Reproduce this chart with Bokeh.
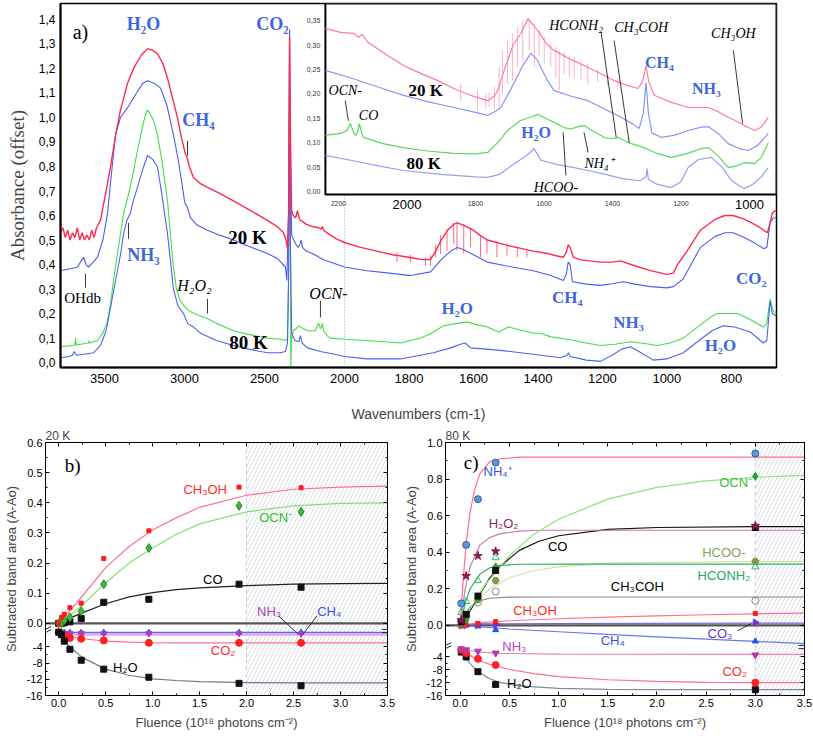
import numpy as np
from bokeh.plotting import figure
from bokeh.models import (Range1d, ColumnDataSource, CustomJSTransform, FixedTicker,
                          CustomJSTickFormatter, LinearAxis, Span, BoxAnnotation,
                          SingleIntervalTicker)
from bokeh.transform import transform
from bokeh.layouts import column, row
from bokeh.core.properties import value
from bokeh.embed import file_html
from bokeh.resources import INLINE

SERIF = "Liberation Serif"
SANS = "Liberation Sans"

# ---------------- panel a : IR spectra (wavenumber cm-1, absorbance) ----------------
R20_MAIN = [
 (3775,.53),(3760,.55),(3745,.51),(3730,.54),(3715,.50),(3700,.53),(3685,.51),(3670,.55),
 (3655,.50),(3640,.53),(3625,.50),(3610,.52),(3595,.50),(3580,.54),(3565,.51),(3550,.55),
 (3525,.58),(3490,.70),(3462,.80),(3430,.93),(3400,1.03),(3356,1.14),(3318,1.20),(3270,1.255),
 (3231,1.28),(3200,1.275),(3169,1.26),(3135,1.22),(3106,1.16),(3075,1.08),(3044,1.0),(3020,.92),
 (2994,.85),(2985,.84),(2970,.80),(2944,.755),(2900,.73),(2856,.715),(2780,.69),(2694,.66),
 (2600,.625),(2481,.58),(2420,.555),(2381,.53),(2365,.50),(2356,.465),(2349,.60),(2343,1.33),
 (2337,.90),(2330,.62),(2320,.60),(2305,.59),(2294,.62),(2285,.595),(2275,.58),(2262,.575),
 (2240,.565),(2200,.555),(2160,.55),(2145,.545),(2138,.555),(2130,.54),(2100,.525),(2050,.505),
 (2000,.49),(1950,.47),(1900,.455),(1850,.44),(1800,.43),(1760,.42),(1733,.42),(1715,.46),
 (1700,.50),(1680,.54),(1660,.565),(1650,.57),(1630,.56),(1600,.54),(1580,.52),(1557,.50),
 (1500,.48),(1450,.465),(1414,.455),(1370,.445),(1340,.435),(1321,.43),(1312,.45),(1306,.48),
 (1300,.47),(1290,.43),(1270,.42),(1240,.415),(1206,.41),(1170,.41),(1144,.415),(1100,.395),
 (1051,.375),(1000,.36),(980,.365),(967,.40),(940,.45),(896,.54),(850,.585),(820,.60),
 (794,.60),(760,.585),(730,.565),(710,.55),(695,.535),(688,.53),(680,.57),(673,.61),(664,.62),(660,.62)]

B20_MAIN = [
 (3775,.375),(3700,.385),(3669,.39),(3650,.41),(3631,.43),(3615,.40),(3600,.39),(3570,.41),
 (3544,.43),(3510,.50),(3481,.61),(3455,.78),(3431,.93),(3400,1.0),(3356,1.04),(3300,1.10),
 (3260,1.14),(3231,1.15),(3190,1.14),(3150,1.12),(3110,1.05),(3069,.93),(3040,.83),(3012,.715),
 (3000,.66),(2994,.645),(2985,.64),(2962,.59),(2920,.56),(2856,.54),(2780,.52),(2694,.50),
 (2600,.475),(2481,.445),(2420,.425),(2369,.39),(2360,.335),(2350,.60),(2343,1.36),(2337,.80),
 (2330,.52),(2310,.49),(2290,.47),(2280,.48),(2270,.50),(2262,.47),(2240,.455),(2200,.445),
 (2130,.42),(2000,.39),(1930,.375),(1860,.365),(1795,.355),(1733,.37),(1700,.42),(1670,.455),
 (1650,.47),(1630,.46),(1600,.44),(1557,.41),(1500,.395),(1414,.375),(1360,.355),(1321,.335),
 (1312,.36),(1306,.41),(1300,.40),(1293,.33),(1250,.32),(1206,.315),(1170,.322),(1135,.33),
 (1100,.32),(1051,.31),(1000,.305),(980,.31),(950,.34),(896,.47),(850,.515),(820,.53),
 (794,.53),(760,.51),(730,.49),(700,.465),(690,.47),(680,.57),(670,.59),(660,.59)]

G80_MAIN = [
 (3775,.065),(3700,.07),(3685,.072),(3681,.10),(3677,.072),(3620,.078),(3600,.08),(3596,.09),
 (3592,.08),(3544,.09),(3510,.12),(3481,.17),(3460,.25),(3444,.335),(3420,.44),(3400,.525),
 (3380,.61),(3356,.67),(3325,.76),(3294,.865),(3260,.97),(3240,1.02),(3231,1.03),(3210,1.01),
 (3190,.98),(3169,.93),(3140,.82),(3106,.66),(3085,.50),(3069,.39),(3050,.30),(3025,.25),
 (2980,.215),(2940,.20),(2900,.19),(2856,.18),(2800,.16),(2694,.13),(2600,.115),(2481,.10),
 (2400,.095),(2369,.09),(2356,.10),(2350,.30),(2343,1.15),(2338,.60),(2335,-.02),(2330,.10),
 (2320,.13),(2300,.14),(2285,.15),(2275,.145),(2262,.14),(2230,.13),(2200,.13),(2180,.13),
 (2168,.155),(2160,.16),(2152,.14),(2145,.14),(2139,.16),(2130,.13),(2110,.11),(2088,.10),
 (2000,.095),(1930,.09),(1826,.08),(1764,.10),(1730,.12),(1693,.15),(1650,.16),(1619,.165),
 (1590,.155),(1557,.145),(1522,.125),(1491,.145),(1460,.135),(1414,.12),(1392,.12),(1360,.105),
 (1308,.095),(1250,.08),(1206,.07),(1160,.075),(1113,.085),(1070,.078),(1030,.07),(990,.08),
 (949,.10),(900,.15),(860,.19),(843,.20),(800,.20),(781,.20),(740,.175),(701,.145),(690,.16),
 (680,.26),(670,.21),(660,.20)]

B80_MAIN = [
 (3775,.02),(3720,.025),(3700,.03),(3690,.045),(3681,.035),(3670,.03),(3620,.035),(3569,.04),
 (3525,.07),(3490,.13),(3462,.225),(3431,.335),(3400,.44),(3381,.525),(3360,.58),(3338,.61),
 (3320,.66),(3294,.715),(3260,.79),(3231,.845),(3200,.83),(3169,.80),(3140,.68),(3106,.525),
 (3085,.40),(3069,.30),(3040,.23),(3006,.20),(2980,.16),(2944,.145),(2900,.12),(2800,.09),
 (2694,.07),(2600,.055),(2481,.04),(2400,.04),(2369,.045),(2356,.08),(2348,.40),(2343,1.0),
 (2338,.50),(2330,.12),(2310,.09),(2285,.085),(2275,.11),(2265,.08),(2231,.06),(2150,.045),
 (2069,.035),(2000,.025),(1930,.015),(1826,.015),(1724,.04),(1671,.06),(1640,.075),(1625,.08),
 (1609,.06),(1560,.055),(1516,.05),(1420,.035),(1330,.02),(1310,.03),(1305,.04),(1300,.025),
 (1250,.01),(1206,.005),(1170,.03),(1140,.055),(1113,.065),(1080,.04),(1042,.01),(1000,.015),
 (949,.04),(900,.09),(860,.13),(825,.15),(790,.145),(741,.125),(701,.08),(690,.09),(680,.25),
 (673,.20),(660,.19)]

# water-vapour spikes on the 20 K spectrum: (wavenumber, top, bottom)
R20_SPIKES_MAIN = [
 (1837,.450,.410),(1795,.440,.410),(1749,.430,.396),(1733,.440,.396),(1718,.480,.430),
 (1702,.52,.444),(1682,.545,.457),(1661,.570,.484),(1651,.573,.457),(1630,.566,.444),
 (1609,.545,.471),(1578,.52,.430),(1558,.505,.444),(1527,.495,.430),(1496,.485,.437),
 (1464,.47,.430),(1434,.46,.430)]

# ---------------- inset (zoom 2238-921 cm-1) ----------------
R20_INS = [
 (2238,.334),(2194,.326),(2156,.324),(2141,.316),(2130,.322),(2115,.306),(2060,.28),(2010,.258),
 (1960,.242),(1910,.227),(1860,.21),(1814,.197),(1764,.186),(1745,.195),(1735,.207),(1720,.24),
 (1706,.268),(1690,.30),(1667,.324),(1647,.354),(1618,.33),(1595,.305),(1571,.289),(1520,.27),
 (1471,.254),(1430,.24),(1395,.227),(1360,.218),(1325,.211),(1312,.225),(1302,.258),(1294,.225),
 (1278,.197),(1230,.183),(1179,.172),(1150,.172),(1120,.172),(1090,.163),(1062,.152),(1040,.145),
 (1015,.135),(1000,.13),(985,.125),(965,.132),(945,.152)]
B20_INS = [
 (2238,.248),(2156,.231),(2080,.213),(2010,.197),(1940,.184),(1863,.172),(1800,.162),(1764,.156),
 (1740,.165),(1726,.172),(1700,.205),(1688,.221),(1660,.26),(1638,.283),(1620,.27),(1609,.254),
 (1590,.228),(1571,.207),(1520,.195),(1471,.186),(1420,.168),(1375,.152),(1340,.138),(1322,.129),
 (1310,.16),(1302,.223),(1295,.16),(1285,.12),(1258,.111),(1220,.115),(1179,.125),(1140,.132),
 (1120,.133),(1090,.118),(1062,.098),(1030,.088),(1003,.084),(975,.095),(945,.119)]
G80_INS = [
 (2238,.115),(2194,.119),(2175,.125),(2165,.139),(2155,.12),(2150,.115),(2145,.12),(2139,.139),
 (2132,.12),(2127,.111),(2070,.098),(2010,.09),(1940,.083),(1863,.078),(1800,.077),(1764,.08),
 (1735,.10),(1706,.125),(1670,.145),(1640,.152),(1618,.158),(1590,.148),(1560,.138),(1541,.131),
 (1520,.128),(1500,.133),(1483,.135),(1460,.125),(1424,.111),(1400,.108),(1383,.111),(1365,.104),
 (1345,.098),(1320,.093),(1302,.088),(1270,.078),(1228,.07),(1180,.078),(1140,.088),(1120,.09),
 (1090,.072),(1062,.049),(1040,.052),(1015,.059),(985,.057),(965,.07),(945,.10)]
B80_INS = [
 (2238,.074),(2150,.062),(2080,.052),(2010,.043),(1900,.035),(1800,.03),(1764,.029),(1730,.035),
 (1706,.047),(1680,.06),(1658,.07),(1640,.08),(1629,.088),(1618,.075),(1609,.064),(1560,.055),
 (1520,.05),(1471,.043),(1420,.035),(1375,.027),(1320,.022),(1302,.03),(1299,.047),(1295,.025),
 (1270,.015),(1228,.008),(1200,.02),(1179,.049),(1150,.065),(1111,.07),(1080,.05),(1053,.023),
 (1030,.012),(1015,.006),(990,.015),(965,.03),(945,.049)]
R20_SPIKES_INS = [
 (1843,.221,.186),(1794,.207,.166),(1770,.200,.169),(1760,.203,.173),(1745,.214,.166),
 (1731,.255,.173),(1721,.289,.200),(1706,.309,.221),(1692,.323,.227),(1677,.337,.255),
 (1662,.350,.268),(1643,.354,.289),(1628,.344,.255),(1614,.330,.279),(1599,.316,.262),
 (1580,.303,.255),(1565,.296,.234),(1555,.289,.207),(1541,.285,.241),(1526,.279,.234),
 (1512,.275,.231),(1492,.268,.227),(1472,.262,.221),(1443,.251,.224),(1414,.238,.217),
 (1384,.231,.210)]

A_XTICKS = [3500, 3000, 2500, 2000, 1800, 1600, 1400, 1200, 1000, 800]
A_YTICKS = [0.0, 0.1, 0.2, 0.3, 0.4, 0.5, 0.6, 0.7, 0.8, 0.9, 1.0, 1.1, 1.2, 1.3, 1.4]
INS_YTICKS = [0.0, 0.05, 0.10, 0.15, 0.20, 0.25, 0.30, 0.35]
INS_XTICKS_SMALL = [2200, 1800, 1600, 1400, 1200]
INS_XTICKS_BIG = [2000, 1000]

# ---------------- panel b : 20 K ----------------
FL_B = [0, 0.03, 0.06, 0.12, 0.24, 0.48, 0.96, 1.92, 2.58]
B_CH3OH = [0, 0.02, 0.03, 0.052, 0.067, 0.215, 0.307, 0.452, 0.45]
B_OCN = [0, 0.0, 0.01, 0.02, 0.04, 0.13, 0.25, 0.39, 0.37]
B_CO = [0, 0.0, 0.002, 0.005, 0.016, 0.07, 0.08, 0.13, 0.12]
B_CH4 = [-0.3, -0.4, -0.45, -0.45, -0.45, -0.45, -0.45, -0.45, -0.45]
B_NH3 = [-0.4, -0.6, -0.6, -0.65, -0.65, -0.7, -0.7, -0.7, -0.8]
B_CO2 = [-0.4, -0.9, -1.2, -1.8, -2.0, -2.4, -3.0, -3.0, -3.0]
B_H2O = [-0.4, -1.0, -2.6, -4.6, -7.3, -9.5, -11.5, -13.0, -13.6]
BF_X = [0, 0.1, 0.25, 0.5, 0.75, 1.0, 1.25, 1.5, 2.0, 2.5, 3.0, 3.5]
BF_CH3OH = [0, 0.035, 0.09, 0.185, 0.255, 0.31, 0.35, 0.385, 0.425, 0.445, 0.452, 0.455]
BF_OCN = [0, 0.02, 0.06, 0.135, 0.2, 0.25, 0.295, 0.33, 0.37, 0.39, 0.398, 0.40]
BF_CO = [0, 0.015, 0.035, 0.065, 0.088, 0.102, 0.112, 0.118, 0.125, 0.13, 0.132, 0.133]
BF_CO2 = [-0.3, -1.3, -2.0, -2.6, -2.85, -2.95, -3.0, -3.0, -3.0, -3.0, -3.0, -3.0]
BF_H2O = [-0.3, -3.6, -6.6, -9.5, -11.0, -11.9, -12.3, -12.6, -12.8, -12.9, -12.9, -12.9]
BF_CH4 = [-0.45, -0.45, -0.45, -0.45, -0.45, -0.45, -0.45, -0.45, -0.45, -0.45, -0.45, -0.45]
BF_NH3 = [-0.9, -0.9, -0.9, -0.9, -0.9, -0.9, -0.9, -0.9, -0.9, -0.9, -0.9, -0.9]
B_YTICKS = [0.0, 0.1, 0.2, 0.3, 0.4, 0.5, 0.6, -4, -8, -12, -16]
B_YMINOR = [0.05, 0.15, 0.25, 0.35, 0.45, 0.55, -6, -10, -14]

# ---------------- panel c : 80 K ----------------
FL_C = [0.01, 0.06, 0.18, 0.36, 3.0]
C_NH4 = [0.12, 0.44, 0.69, 0.89, 0.94]
C_H2O2 = [0.03, 0.27, 0.38, 0.405, 0.545]
C_CO = [0.02, 0.06, 0.16, 0.30, 0.535]
C_HCOO = [0.02, 0.05, 0.14, 0.245, 0.35]
C_HCONH2 = [0.07, 0.13, 0.245, 0.37, 0.32]
C_OCN = [0.01, 0.03, 0.15, 0.32, 0.815]
C_CH3COH = [0.0, 0.05, 0.125, 0.185, 0.135]
C_CH3OH = [0.0, 0.005, 0.01, 0.02, 0.065]
C_CO3 = [0.0, 0.0, 0.003, 0.005, 0.015]
C_CH4 = [0.0, 0.0, -0.005, -0.025, -0.087]
C_NH3 = [-1.5, -1.8, -2.2, -2.8, -3.4]
C_CO2 = [-1.8, -2.8, -4.6, -6.5, -12.0]
C_H2O = [-2.5, -4.0, -8.6, -12.6, -14.2]
CF_NH4 = ([0, 0.03, 0.06, 0.1, 0.15, 0.2, 0.3, 0.4, 0.6, 1.0, 3.5],
          [0.0, 0.25, 0.45, 0.62, 0.75, 0.83, 0.895, 0.91, 0.92, 0.92, 0.92])
CF_OCN = ([0, 0.1, 0.25, 0.5, 0.75, 1.0, 1.5, 2.0, 2.5, 3.0, 3.5],
          [0, 0.09, 0.22, 0.38, 0.50, 0.58, 0.69, 0.755, 0.79, 0.81, 0.82])
CF_H2O2 = ([0, 0.05, 0.1, 0.2, 0.3, 0.4, 0.6, 0.8, 1.0, 3.5],
           [0.0, 0.2, 0.32, 0.44, 0.48, 0.5, 0.515, 0.52, 0.52, 0.52])
CF_CO = ([0, 0.1, 0.2, 0.3, 0.4, 0.6, 0.8, 1.0, 1.5, 2.0, 3.0, 3.5],
         [0, 0.08, 0.17, 0.26, 0.32, 0.41, 0.46, 0.49, 0.525, 0.535, 0.54, 0.54])
CF_HCONH2 = ([0, 0.05, 0.1, 0.2, 0.3, 0.4, 0.6, 1.0, 3.5],
             [0.0, 0.12, 0.2, 0.28, 0.315, 0.328, 0.334, 0.335, 0.335])
CF_HCOO = ([0, 0.1, 0.2, 0.3, 0.5, 0.75, 1.0, 1.5, 2.0, 3.5],
           [0, 0.08, 0.15, 0.2, 0.26, 0.3, 0.32, 0.34, 0.345, 0.35])
CF_CH3COH = ([0, 0.05, 0.1, 0.2, 0.3, 0.5, 1.0, 3.5],
             [0, 0.06, 0.1, 0.135, 0.148, 0.154, 0.155, 0.155])
CF_CH3OH = ([0, 0.2, 0.5, 1.0, 1.5, 2.0, 2.5, 3.0, 3.5],
            [0, 0.015, 0.025, 0.036, 0.045, 0.052, 0.058, 0.063, 0.067])
CF_CO3 = ([0, 0.2, 1.0, 3.5], [0.0, 0.008, 0.01, 0.012])
CF_CH4 = ([0, 0.5, 1.0, 1.5, 2.0, 2.5, 3.0, 3.5],
          [0, -0.02, -0.035, -0.05, -0.063, -0.075, -0.088, -0.1])
CF_NH3 = ([0, 0.05, 0.1, 0.2, 0.4, 1.0, 3.5], [-1.0, -1.6, -2.0, -2.5, -2.9, -3.1, -3.2])
CF_CO2 = ([0, 0.05, 0.1, 0.2, 0.3, 0.5, 0.75, 1.0, 1.5, 2.0, 2.5, 3.0, 3.5],
          [-1.0, -2.5, -3.6, -5.2, -6.3, -7.9, -9.2, -10.1, -11.1, -11.6, -11.9, -12.0, -12.0])
CF_H2O = ([0, 0.05, 0.1, 0.15, 0.2, 0.3, 0.4, 0.6, 1.0, 1.5, 2.0, 3.5],
          [-1.0, -3.8, -6.0, -7.7, -9.0, -10.8, -11.9, -13.0, -13.8, -14.1, -14.2, -14.2])
C_YTICKS = [0.0, 0.2, 0.4, 0.6, 0.8, 1.0, -4, -8, -12, -16]
C_YMINOR = [0.1, 0.3, 0.5, 0.7, 0.9, -6, -10, -14]

# ---------------- piecewise (broken) axis scales ----------------
RATIO = 0.16 / 0.3225          # compressed scale above 2000 cm-1
XP_A = [500.0, 2000.0, 4000.0]
FP_A = [500.0, 2000.0, 2000.0 + 2000.0 * RATIO]
XP_B = [-16.0, -0.2, -0.015, 0.6]
FP_B = [0.0, 64.8, 68.4, 256.0]
XP_C = [-16.0, -0.5, -0.11, 1.0]
FP_C = [0.0, 50.4, 50.65, 256.0]

JS_INTERP = """
function f(v) {
  const n = xp.length;
  let i = 1;
  while (i < n - 1 && v > xp[i]) { i++; }
  return fp[i-1] + (v - xp[i-1]) * (fp[i] - fp[i-1]) / (xp[i] - xp[i-1]);
}
"""


def pw(xp, fp):
    return CustomJSTransform(args=dict(xp=list(xp), fp=list(fp)),
                             func=JS_INTERP + "return f(x);",
                             v_func=JS_INTERP + "return xs.map((v) => f(v));")


def interp(v, xp, fp):
    return [float(t) for t in np.interp(v, xp, fp)]


TA = pw(XP_A, FP_A)
TB = pw(XP_B, FP_B)
TC = pw(XP_C, FP_C)


def unz(pts):
    return [p[0] for p in pts], [p[1] for p in pts]


# ================= panel a =================
x_start = interp([3775], XP_A, FP_A)[0]
pa = figure(width=813, height=425, x_range=Range1d(x_start, 660), y_range=Range1d(-0.02, 1.465),
            output_backend="svg", toolbar_location=None, min_border_left=60, min_border_right=37,
            min_border_top=3, min_border_bottom=58)
pa.grid.visible = False
pa.outline_line_color = "black"
pa.outline_line_width = 1.5
pa.xaxis.ticker = FixedTicker(ticks=interp(A_XTICKS, XP_A, FP_A))
pa.xaxis.formatter = CustomJSTickFormatter(args=dict(xp=FP_A, fp=XP_A),
                                           code=JS_INTERP + "return String(Math.round(f(tick)));")
pa.yaxis.ticker = FixedTicker(ticks=A_YTICKS)
pa.yaxis.formatter = CustomJSTickFormatter(code="return tick.toFixed(1).replace('.', ',');")
for ax in (pa.xaxis[0], pa.yaxis[0]):
    ax.major_tick_out = 0
    ax.major_tick_in = 0
    ax.minor_tick_out = 0
    ax.minor_tick_in = 0
    ax.axis_line_width = 2
    ax.major_label_text_font = SANS
    ax.major_label_text_color = "black"
pa.xaxis.major_label_text_font_size = "13px"
pa.xaxis.major_label_standoff = 6
pa.yaxis.major_label_text_font_size = "12px"
pa.xaxis.axis_label = "Wavenumbers (cm-1)"
pa.xaxis.axis_label_text_font = SANS
pa.xaxis.axis_label_text_font_size = "14px"
pa.xaxis.axis_label_text_font_style = "normal"
pa.xaxis.axis_label_standoff = 20
pa.yaxis.axis_label = "Absorbance (offset)"
pa.yaxis.axis_label_text_font = SERIF
pa.yaxis.axis_label_text_font_size = "19px"
pa.yaxis.axis_label_text_font_style = "normal"
pa.yaxis.axis_label_standoff = 8

# dotted marker at 2000 cm-1
pa.segment(x0=transform('w', TA), x1=transform('w', TA), y0='a0', y1='a1',
           source=ColumnDataSource(dict(w=[2000], a0=[-0.02], a1=[1.465])),
           line_color="#9aa6d8", line_dash="1 2", line_width=1)

for pts_, col, lw in ((G80_MAIN, "#44dd44", 1.1), (B80_MAIN, "#5060ee", 1.1),
                      (B20_MAIN, "#4c5cf0", 1.1), (R20_MAIN, "#ff2a52", 1.4)):
    w, a = unz(pts_)
    pa.line(x=transform('w', TA), y='a', source=ColumnDataSource(dict(w=w, a=a)),
            line_color=col, line_width=lw)
pa.segment(x0=transform('w', TA), x1=transform('w', TA), y0='t', y1='b',
           source=ColumnDataSource(dict(w=[s[0] for s in R20_SPIKES_MAIN],
                                        t=[s[1] for s in R20_SPIKES_MAIN],
                                        b=[s[2] for s in R20_SPIKES_MAIN])),
           line_color="#ff2a52", line_width=0.7)


def put_text(target, ws, ys, texts, font, size, style, color, xf=None, align="center", **kw):
    s = ColumnDataSource(dict(w=ws, a=ys, t=texts))
    xs = transform('w', xf) if xf is not None else 'w'
    target.text(x=xs, y='a', text='t', source=s, text_font=value(font), text_font_size=size,
                text_font_style=style, text_color=color, text_align=align,
                text_baseline="middle", **kw)


def put_lines(target, segs, color="#222222", xf=None, width=0.9):
    s = ColumnDataSource(dict(w0=[q[0] for q in segs], a0=[q[1] for q in segs],
                              w1=[q[2] for q in segs], a1=[q[3] for q in segs]))
    x0 = transform('w0', xf) if xf is not None else 'w0'
    x1 = transform('w1', xf) if xf is not None else 'w1'
    target.segment(x0=x0, y0='a0', x1=x1, y1='a1', source=s, line_color=color, line_width=width)


BLUE_T = "#3d66dd"
put_text(pa, [3256, 2450, 2912, 3256], [1.38, 1.38, 0.99, 0.437],
         ["H₂O", "CO₂", "CH₄", "NH₃"], SERIF, "18px", "bold", BLUE_T, TA)
put_text(pa, [1650, 1309, 1119, 834, 738], [0.22, 0.265, 0.163, 0.07, 0.345],
         ["H₂O", "CH₄", "NH₃", "H₂O", "CO₂"], SERIF, "17px", "bold", BLUE_T, TA)
put_text(pa, [2606, 2600], [0.51, 0.08], ["20 K", "80 K"], SERIF, "19px", "bold", "black", TA)
put_text(pa, [2938, 2100], [0.314, 0.28], ["H₂O₂", "OCN-"], SERIF, "16px", "italic", "black", TA)
put_text(pa, [3650], [1.35], ["a)"], SERIF, "20px", "normal", "black", TA)
put_text(pa, [3637], [0.262], ["OHdb"], SERIF, "15px", "normal", "black", TA)
put_lines(pa, [(2981, 0.905, 2981, 0.845), (3350, 0.57, 3350, 0.505), (3619, 0.363, 3619, 0.306),
               (2856, 0.26, 2856, 0.20), (2150, 0.253, 2150, 0.184)], xf=TA)

# ---- inset ----
ins_left = interp([2119], XP_A, FP_A)[0]
ins = pa.subplot(x_source=Range1d(2238, 921), y_source=Range1d(-0.006, 0.385),
                 x_target=Range1d(ins_left, 660), y_target=Range1d(0.686, 1.465))
ins.quad(left=[2238], right=[921], bottom=[-0.006], top=[0.385], fill_color="white",
         line_color="black", line_width=2)
for pts_, col in ((G80_INS, "#5ed65e"), (B80_INS, "#959ef0"), (B20_INS, "#8a94f0"),
                  (R20_INS, "#ff7aa0")):
    w, a = unz(pts_)
    ins.line(x='w', y='a', source=ColumnDataSource(dict(w=w, a=a)), line_color=col, line_width=1.2)
ins.segment(x0='w', x1='w', y0='t', y1='b',
            source=ColumnDataSource(dict(w=[s[0] for s in R20_SPIKES_INS],
                                         t=[s[1] for s in R20_SPIKES_INS],
                                         b=[s[2] for s in R20_SPIKES_INS])),
            line_color="#ff7aa0", line_width=0.6)
put_text(ins, [2238] * len(INS_YTICKS), INS_YTICKS, [f"{v:.2f}".replace('.', ',') for v in INS_YTICKS],
         SANS, "7px", "normal", "#333344", align="right", x_offset=-5)
put_text(ins, INS_XTICKS_SMALL, [-0.006] * len(INS_XTICKS_SMALL), [str(v) for v in INS_XTICKS_SMALL],
         SANS, "7px", "normal", "#333344", y_offset=9)
put_text(ins, INS_XTICKS_BIG, [-0.006] * len(INS_XTICKS_BIG), [str(v) for v in INS_XTICKS_BIG],
         SANS, "13px", "normal", "black", y_offset=10)
put_text(ins, [1945, 1951], [0.207, 0.057], ["20 K", "80 K"], SERIF, "17px", "bold", "black")
put_text(ins, [1623, 1263, 1126], [0.121, 0.264, 0.211], ["H₂O", "CH₄", "NH₃"],
         SERIF, "16px", "bold", BLUE_T)
put_text(ins, [2180, 2112, 1506, 1316, 1047, 1439, 1565],
         [0.207, 0.156, 0.34, 0.336, 0.324, 0.057, 0.008],
         ["OCN-", "CO", "HCONH₂", "CH₃COH", "CH₃OH", "NH₄⁺", "HCOO-"],
         SERIF, "14px", "italic", "black")
put_lines(ins, [(2180, 0.186, 2171, 0.145), (1433, 0.326, 1389, 0.111), (1395, 0.309, 1351, 0.10),
                (1047, 0.289, 1020, 0.139), (1483, 0.121, 1471, 0.08), (1544, 0.121, 1536, 0.033)])


# ================= helpers for panels b, c =================
def style_panel(p, xp, fp, yticks, yminor, title):
    p.grid.visible = False
    p.outline_line_color = "black"
    p.outline_line_width = 1
    bottom = p.below[0]
    left = p.left[0]
    yt = FixedTicker(ticks=interp(yticks, xp, fp), minor_ticks=interp(yminor, xp, fp))
    xt = SingleIntervalTicker(interval=0.5, num_minor_ticks=2)
    left.ticker = yt
    bottom.ticker = xt
    left.formatter = CustomJSTickFormatter(
        args=dict(xp=list(fp), fp=list(xp)),
        code=JS_INTERP + "const v = f(tick); return v > -1 ? v.toFixed(1) : String(Math.round(v));")
    bottom.formatter = CustomJSTickFormatter(code="return tick.toFixed(1);")
    empty = CustomJSTickFormatter(code="return '';")
    right = LinearAxis(ticker=yt, formatter=empty)
    top = LinearAxis(ticker=xt, formatter=empty)
    p.add_layout(right, "right")
    p.add_layout(top, "above")
    for ax in (bottom, left, right, top):
        ax.major_tick_in = 4
        ax.major_tick_out = 0
        ax.minor_tick_in = 2
        ax.minor_tick_out = 0
        ax.major_label_standoff = 3
        ax.major_label_text_font = SANS
        ax.major_label_text_font_size = "11px"
        ax.major_label_text_color = "black"
        ax.axis_line_width = 1
    for ax in (right, top):
        ax.major_label_standoff = 0
    bottom.axis_label = "Fluence (10¹⁸ photons cm⁻²)"
    left.axis_label = "Subtracted band area (A-Ao)"
    for ax in (bottom, left):
        ax.axis_label_text_font = SANS
        ax.axis_label_text_font_size = "13px"
        ax.axis_label_text_font_style = "normal"
        ax.axis_label_standoff = 5
    p.title.text = title
    p.title.text_font = SANS
    p.title.text_font_size = "12px"
    p.title.text_font_style = "normal"
    p.title.align = "left"
    p.title.standoff = 0


def break_marks(p, x0, x1, dx, yv, tf):
    # two short slanted strokes at each side of the axis break
    segs = []
    for xx, sgn in ((x0, 1), (x1, -1)):
        for off in (-1.6, 1.6):
            segs.append((xx, yv + off - 1.5, xx + sgn * dx, yv + off + 1.5 * sgn))
    p.segment(x0='x0', y0='y0', x1='x1', y1='y1',
              source=ColumnDataSource(dict(x0=[s[0] for s in segs], y0=[s[1] for s in segs],
                                           x1=[s[2] for s in segs], y1=[s[3] for s in segs])),
              line_color="#222222", line_width=1)


def fit(p, xs, ys, tf, col, width=1.2):
    p.line(x='x', y=transform('y', tf), source=ColumnDataSource(dict(x=xs, y=ys)),
           line_color=col, line_width=width)


def pts(p, xs, ys, tf, marker, size, fill, line=None, **kw):
    p.scatter(x='x', y=transform('y', tf), source=ColumnDataSource(dict(x=xs, y=ys)),
              marker=marker, size=size, fill_color=fill, line_color=line or fill, **kw)


def lab(p, xs, ys, texts, tf, color, size="13px", font=SANS, style="normal"):
    p.text(x='x', y=transform('y', tf), text='t',
           source=ColumnDataSource(dict(x=xs, y=ys, t=texts)), text_font=value(font),
           text_font_size=size, text_font_style=style, text_color=color, text_align="center",
           text_baseline="middle")


def arrows(p, segs, tf, color="#333333"):
    p.segment(x0='x0', y0=transform('y0', tf), x1='x1', y1=transform('y1', tf),
              source=ColumnDataSource(dict(x0=[s[0] for s in segs], y0=[s[1] for s in segs],
                                           x1=[s[2] for s in segs], y1=[s[3] for s in segs])),
              line_color=color, line_width=1)


# ================= panel b =================
pb = figure(width=400, height=311, x_range=Range1d(-0.14, 3.5), y_range=Range1d(0, 256),
            output_backend="svg", toolbar_location=None, min_border_left=39, min_border_right=13,
            min_border_top=14, min_border_bottom=41)
style_panel(pb, XP_B, FP_B, B_YTICKS, B_YMINOR, "20 K")
pb.add_layout(BoxAnnotation(left=2.0, right=3.5, fill_alpha=0, hatch_pattern="/",
                            hatch_color="#b4bcc8", hatch_alpha=0.9, hatch_scale=8, hatch_weight=0.6,
                            line_color=None, level="underlay"))
pb.add_layout(Span(location=2.0, dimension="height", line_color="#c4ccdc", line_dash="4 3",
                   line_width=1, level="underlay"))
fit(pb, [-0.14, 3.5], [0, 0], TB, "#555555", width=2.2)
fit(pb, BF_X, BF_NH3, TB, "#e6a9e6", width=3)
fit(pb, BF_X, BF_CH4, TB, "#4f6dff")
fit(pb, BF_X, BF_CO2, TB, "#ff6f91")
fit(pb, BF_X, BF_H2O, TB, "#6d7b8c")
fit(pb, BF_X, BF_CO, TB, "#222222")
fit(pb, BF_X, BF_OCN, TB, "#85e070")
fit(pb, BF_X, BF_CH3OH, TB, "#ff6f91")
pts(pb, FL_B, B_CH4, TB, "triangle", 6, "#3b5bff")
pts(pb, FL_B, B_NH3, TB, "inverted_triangle", 6, "#b03cb0")
pts(pb, FL_B, B_CO2, TB, "circle", 7, "#ff2020")
pts(pb, FL_B, B_H2O, TB, "square", 6, "#111111")
pts(pb, FL_B, B_CO, TB, "square", 6, "#111111")
pts(pb, FL_B, B_OCN, TB, "diamond", 9, "#3cb83c", "#238a23")
pts(pb, FL_B, B_CH3OH, TB, "square", 4, "#ff1a1a")
lab(pb, [1.56], [0.443], ["CH₃OH"], TB, "#ff2a2a")
lab(pb, [2.31], [0.35], ["OCN⁻"], TB, "#2fbf2f")
lab(pb, [1.64], [0.145], ["CO"], TB, "black")
lab(pb, [2.24], [0.04], ["NH₃"], TB, "#b040c0")
lab(pb, [2.88], [0.04], ["CH₄"], TB, "#3355ee")
lab(pb, [1.75], [-5.0], ["CO₂"], TB, "#ff2a2a")
lab(pb, [0.71], [-9.1], ["H₂O"], TB, "black")
arrows(pb, [(2.34, 0.025, 2.55, -0.9), (2.75, 0.025, 2.6, -0.9)], TB)
lab(pb, [0.15], [0.525], ["b)"], TB, "black", size="19px", font=SERIF)
break_marks(pb, -0.14, 3.5, 0.06, interp([-0.1], XP_B, FP_B)[0], TB)

# ================= panel c =================
pc = figure(width=413, height=311, x_range=Range1d(-0.15, 3.5), y_range=Range1d(0, 256),
            output_backend="svg", toolbar_location=None, min_border_left=41, min_border_right=9,
            min_border_top=17, min_border_bottom=38)
style_panel(pc, XP_C, FP_C, C_YTICKS, C_YMINOR, "80 K")
pc.add_layout(BoxAnnotation(left=3.0, right=3.5, fill_alpha=0, hatch_pattern="/",
                            hatch_color="#b4bcc8", hatch_alpha=0.9, hatch_scale=8, hatch_weight=0.6,
                            line_color=None, level="underlay"))
pc.add_layout(Span(location=3.0, dimension="height", line_color="#c4ccdc", line_dash="4 3",
                   line_width=1, level="underlay"))
fit(pc, [-0.15, 3.5], [0, 0], TC, "#555555", width=2.2)
fit(pc, *CF_H2O, TC, "#7a8aa0")
fit(pc, *CF_CO2, TC, "#ff6f91")
fit(pc, *CF_NH3, TC, "#ee82b0")
fit(pc, *CF_CH4, TC, "#6677ee")
fit(pc, *CF_CO3, TC, "#7060d0")
fit(pc, *CF_CH3OH, TC, "#ff6f91")
fit(pc, *CF_CH3COH, TC, "#8a8a8a")
fit(pc, *CF_HCOO, TC, "#d6dea0")
fit(pc, *CF_HCONH2, TC, "#2db35a")
fit(pc, *CF_CO, TC, "#111111")
fit(pc, *CF_H2O2, TC, "#c87ab0")
fit(pc, *CF_OCN, TC, "#8fe07a")
fit(pc, *CF_NH4, TC, "#ff6f91")
pts(pc, FL_C, C_H2O, TC, "square", 6, "#111111")
pts(pc, FL_C, C_CO2, TC, "circle", 7, "#ff2020")
pts(pc, FL_C, C_NH3, TC, "inverted_triangle", 7, "#b03cb0")
pts(pc, FL_C, C_CH4, TC, "triangle", 6, "#2255ee")
pts(pc, FL_C, C_CO3, TC, "triangle", 7, "#6a3acd", angle=-90, angle_units="deg")
pts(pc, FL_C, C_CH3OH, TC, "square", 4, "#ff1a1a")
pts(pc, FL_C, C_CH3COH, TC, "circle", 7, None, "#888888")
pts(pc, FL_C, C_HCOO, TC, "hex", 7, "#7f9a4a")
pts(pc, FL_C, C_HCONH2, TC, "triangle", 7, None, "#2dbf6a")
pts(pc, FL_C, C_OCN, TC, "diamond", 8, "#2ca02c")
pts(pc, FL_C, C_CO, TC, "square", 6, "#111111")
pts(pc, FL_C, C_H2O2, TC, "star", 9, "#8b1a4a")
pts(pc, FL_C, C_NH4, TC, "circle", 7, "#5b9bd5", "#2e5fa3")
lab(pc, [0.38], [0.84], ["NH₄⁺"], TC, "#3355dd")
lab(pc, [2.8], [0.78], ["OCN⁻"], TC, "#3cbf3c")
lab(pc, [0.44], [0.555], ["H₂O₂"], TC, "#8b2a5a")
lab(pc, [0.99], [0.43], ["CO"], TC, "black")
lab(pc, [2.68], [0.40], ["HCOO-"], TC, "#8aa05a")
lab(pc, [2.68], [0.27], ["HCONH₂"], TC, "#22aa66")
lab(pc, [1.8], [0.21], ["CH₃COH"], TC, "black")
lab(pc, [0.76], [0.08], ["CH₃OH"], TC, "#ff2a2a")
lab(pc, [2.64], [-0.045], ["CO₃"], TC, "#6633cc")
lab(pc, [1.55], [-0.085], ["CH₄"], TC, "#3355ee")
lab(pc, [0.55], [-0.8], ["NH₃"], TC, "#aa44bb")
lab(pc, [2.79], [-8.4], ["CO₂"], TC, "#ff2a2a")
lab(pc, [0.6], [-12.2], ["H₂O"], TC, "black")
arrows(pc, [(2.82, -0.03, 2.96, 0.01)], TC)
lab(pc, [0.11], [0.89], ["c)"], TC, "black", size="19px", font=SERIF)
break_marks(pc, -0.15, 3.5, 0.06, interp([-0.3], XP_C, FP_C)[0], TC)

layout = column(pa, row(pb, pc))
open("out.html", "w").write(file_html(layout, INLINE))
